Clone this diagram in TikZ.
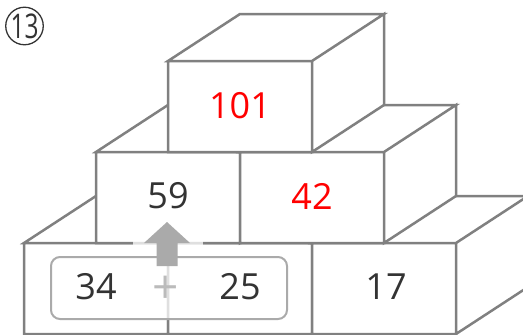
\documentclass[tikz,border=0pt]{standalone}
\usepackage{fontspec}
\setmainfont{Open Sans}
\newfontfamily\narrowfont[FakeStretch=0.72]{Open Sans}
\usepackage{tikz}
\definecolor{edge}{HTML}{808080}
\definecolor{ink}{HTML}{333333}
\definecolor{answer}{HTML}{FF0000}
\definecolor{hint}{HTML}{AAAAAA}
\definecolor{plusgray}{HTML}{BBBBBB}
\tikzset{
  num/.style={font=\fontsize{36}{40}\selectfont, ink, inner sep=0pt},
  sumbox/.style={draw=hint, line width=2pt, rounded corners=9pt, fill=white, fill opacity=.75,
    minimum width=236pt, minimum height=62pt, inner sep=0pt}
}

\begin{document}
\begin{tikzpicture}[x=1pt, y=-1pt]
  \clip (0,0) rectangle (523,335);
  \foreach \x/\y in {24/243, 168/243, 312/243, 96/152, 240/152, 168/61} {
    \filldraw[fill=white, draw=edge, line width=2.5pt]
      (\x,\y) rectangle (\x+144,\y+91)
      (\x,\y) -- (\x+72,\y-47) -- (\x+216,\y-47) -- (\x+144,\y) -- cycle
      (\x+144,\y) -- (\x+216,\y-47) -- (\x+216,\y+44) -- (\x+144,\y+91) -- cycle;
  }
  \node[circle, draw=ink, line width=1.3pt, minimum size=36pt, inner sep=0pt,
    font=\narrowfont\fontsize{34}{36}\selectfont, ink] (qnum) at (24.5,26) {13};
  \node[sumbox] (sum) at (169,288) {};
  \draw[white, opacity=.75, line width=4pt] (133,243) -- (203,243);
  \coordinate (tip) at (167,222);
  \fill[hint] (tip) -- ++(23,21) -- ++(-12.5,0) -- ++(0,23) -- ++(-21,0) -- ++(0,-23) -- ++(-12.5,0) -- cycle;
  \node[num, answer] (top) at (240,106) {101};
  \node[num] (midl) at (168,196) {59};
  \node[num, answer] (midr) at (312,196) {42};
  \node[num] (botr) at (386,287) {17};
  \node[num] (addl) at (96,287) {34};
  \node[num] (addr) at (240,287) {25};
  \node[num, plusgray, font=\fontsize{46}{48}\selectfont] (plus) at (166,290) {+};
\end{tikzpicture}
\end{document}
